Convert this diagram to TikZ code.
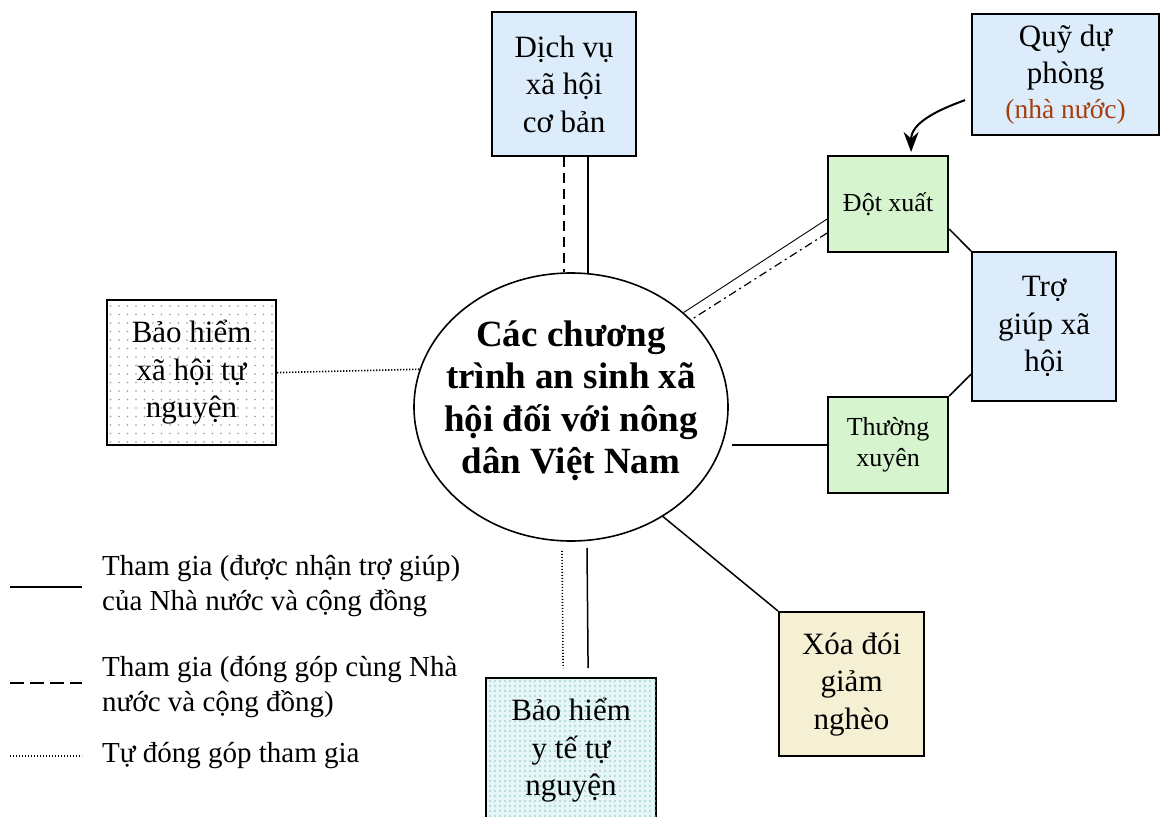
\documentclass[tikz,border=0pt]{standalone}
\usepackage{fontspec}
\setmainfont{Liberation Serif}
\usetikzlibrary{shapes.geometric,arrows.meta,calc,patterns.meta}

\definecolor{boxblue}{RGB}{221,236,250}
\definecolor{boxgreen}{RGB}{214,245,206}
\definecolor{boxbeige}{RGB}{245,240,212}
\definecolor{boxteal}{RGB}{230,245,245}
\definecolor{dotteal}{RGB}{130,195,195}
\definecolor{fundred}{RGB}{165,62,14}

\begin{document}
\begin{tikzpicture}[x=1pt,y=-1pt,
  box/.style={draw=black, line width=2.2pt, inner sep=0pt, align=center,
    anchor=north west, font=\fontsize{31}{37.5}\selectfont},
  smallbox/.style={box, font=\fontsize{26}{31}\selectfont},
  greydots/.style={postaction={pattern={Dots[distance=8.5pt,radius=0.8pt]}, pattern color=gray!80}},
  tealdots/.style={postaction={pattern={Dots[distance=5pt,radius=0.8pt]}, pattern color=dotteal}},
  link/.style={line width=1.5pt},
  thinlink/.style={line width=0.9pt},
  dashlink/.style={line width=1.5pt, dash pattern=on 10pt off 6pt},
  dotlink/.style={line width=1.6pt, dash pattern=on 1.1pt off 1.9pt},
  dashdotlink/.style={line width=1.2pt, dash pattern=on 8pt off 4pt on 2pt off 4pt},
  legend/.style={anchor=west, align=left, inner sep=0pt, font=\fontsize{29}{35}\selectfont},
]
\useasboundingbox (0,0) rectangle (1161,816);
\clip (0,0) rectangle (1161,816);

% central programme
\node[ellipse, draw, line width=1.6pt, fill=white, minimum width=314pt,
      minimum height=268pt, inner sep=0pt] (el) at (571,407) {};
\node[align=center, inner sep=0pt, font=\bfseries\fontsize{37}{42.5}\selectfont]
  (eltext) at (571,401) {Các chương\\trình an sinh xã\\hội đối với nông\\dân Việt Nam};

% programme boxes
\node[box, fill=boxblue, minimum width=144pt, minimum height=144pt] (dv) at (491,11)
  {Dịch vụ\\xã hội\\cơ bản};
\node[box, fill=boxblue, minimum width=187pt, minimum height=121pt] (quy) at (971,13)
  {Quỹ dự\\phòng\\[-3pt]{\fontsize{27.5}{31}\selectfont\color{fundred}(nhà nước)}};
\node[smallbox, fill=boxgreen, minimum width=120pt, minimum height=96pt] (dx) at (827,155)
  {Đột xuất};
\node[box, fill=boxblue, minimum width=144pt, minimum height=149pt] (tro) at (971,251)
  {Trợ\\giúp xã\\hội};
\node[smallbox, fill=boxgreen, minimum width=120pt, minimum height=96pt] (tx) at (827,396)
  {Thường\\xuyên};
\node[box, fill=white, greydots, minimum width=169pt, minimum height=145pt] (bhxh) at (106,299)
  {Bảo hiểm\\xã hội tự\\nguyện};
\node[box, fill=boxteal, tealdots, minimum width=170pt, minimum height=145pt] (yte) at (485,677)
  {Bảo hiểm\\y tế tự\\nguyện};
\node[box, fill=boxbeige, minimum width=145pt, minimum height=144pt] (xoa) at (778,611)
  {Xóa đói\\giảm\\nghèo};

% connectors
\draw[dashlink] (dv.south) -- (dv.south |- el.north);
\draw[link] ($(dv.south)+(24,0)$) -- ($(dv.south |- el.north)+(24,0.5)$);

\draw[thinlink] ($(dx.west)+(0,15)$) -- (el.40.3);
\draw[dashdotlink] ($(dx.west)+(0,29)$) -- (el.36.2);
\draw[link] (tx.west) -- ($(tx.west -| el.east)+(3,0)$);
\draw[link] ($(dx.east)+(0,25)$) -- (tro.north west);
\draw[link] (tx.north east) -- ($(tro.south west)+(0,-28)$);
\draw[line width=2pt, -{Stealth[length=20pt,width=15pt]}]
  ($(quy.west)+(-6,25.5)$) to[out=200,in=90] ($(dx.north)+(23,-3)$);

\draw[dotlink] (bhxh.east) -- (el.166.6);
\draw[dotlink] ($(el.south)+(-9,9)$) -- ($(yte.north)+(-8,-9)$);
\draw[link] ($(el.south)+(16,6)$) -- ($(yte.north)+(17,-9)$);
\draw[link] (el.-50.8) -- (xoa.north west);

% legend
\node[legend] (lg1) at (102,586.5) {Tham gia (được nhận trợ giúp)\\của Nhà nước và cộng đồng};
\node[legend] (lg2) at (102,687) {Tham gia (đóng góp cùng Nhà\\nước và cộng đồng)};
\node[legend] (lg3) at (102,756) {Tự đóng góp tham gia};
\draw[link] ($(lg1.west)+(-92,0.5)$) -- ++(72,0);
\draw[line width=1.5pt, dash pattern=on 14pt off 6pt] ($(lg2.west)+(-92,-4)$) -- ++(72,0);
\draw[dotlink] ($(lg3.west)+(-92,0)$) -- ++(72,0);
\end{tikzpicture}
\end{document}
